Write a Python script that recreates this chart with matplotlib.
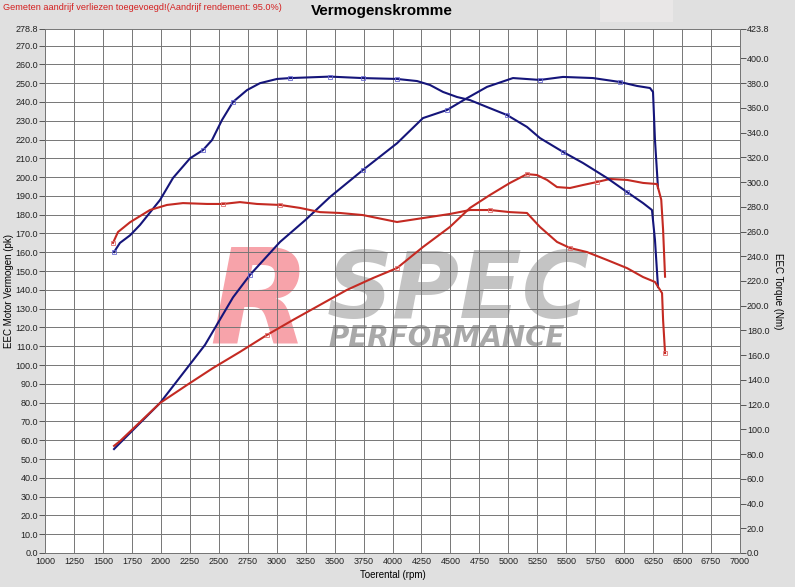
import matplotlib
matplotlib.use("Agg")
import matplotlib.pyplot as plt
import numpy as np
from matplotlib.patches import Rectangle

# ---------------- data ----------------
rpm_tuned_power = [1596, 1647, 1993, 2381, 2623, 2770, 3029, 3245, 3460, 3745, 4039, 4263,
                   4470, 4643, 4816, 5040, 5273, 5472, 5731, 5964, 6111, 6223, 6249, 6266, 6292]
tuned_power = [55.3, 58.5, 79.8, 110.7, 136.0, 148.0, 165.5, 177.0, 189.4, 203.8, 218.0, 231.4,
               235.7, 242.0, 248.0, 252.7, 251.7, 253.3, 252.7, 250.6, 248.5, 247.4, 245.3, 219.7, 194.2]

rpm_tuned_torque = [1596, 1647, 1734, 1820, 1993, 2105, 2252, 2364, 2442, 2528, 2623, 2744, 2856,
                    3003, 3115, 3460, 3745, 4039, 4212, 4324, 4436, 4557, 4669, 4816, 4989, 5161,
                    5273, 5472, 5645, 5852, 6025, 6163, 6240, 6266, 6292]
tuned_torque = [243.4, 250.8, 256.9, 265.3, 285.5, 303.3, 319.2, 325.9, 334.0, 350.2, 364.8, 374.4,
                380.0, 383.4, 384.1, 385.3, 384.1, 383.4, 381.7, 378.5, 372.9, 368.8, 366.3, 360.7,
                354.2, 344.6, 335.6, 324.4, 315.4, 303.3, 291.9, 283.0, 277.4, 253.1, 215.1]

rpm_stock_power = [1596, 1647, 1993, 2226, 2450, 2683, 2916, 3141, 3374, 3607, 3832, 4039, 4263,
                   4496, 4669, 4842, 5014, 5161, 5247, 5334, 5420, 5532, 5645, 5766, 5878, 6025,
                   6163, 6284, 6320, 6336, 6353]
stock_power = [57.0, 59.5, 79.8, 89.4, 98.4, 107.0, 116.0, 124.0, 132.0, 140.0, 146.3, 151.6, 162.8,
               173.5, 183.6, 190.5, 196.9, 201.6, 201.1, 198.5, 194.7, 194.2, 195.8, 197.4, 199.0,
               198.5, 196.9, 196.3, 188.0, 172.0, 147.0]

rpm_stock_torque = [1587, 1630, 1734, 1906, 2053, 2191, 2399, 2537, 2683, 2830, 3029, 3201, 3374,
                    3547, 3745, 4039, 4263, 4496, 4669, 4842, 5014, 5161, 5273, 5420, 5532, 5679,
                    5852, 6025, 6163, 6266, 6327, 6336, 6353]
stock_torque = [250.8, 259.6, 267.5, 277.4, 281.5, 283.0, 282.3, 282.3, 283.8, 282.3, 281.5, 279.1,
                275.7, 275.0, 273.3, 267.7, 270.9, 274.2, 277.4, 277.4, 275.7, 275.0, 263.7, 251.6,
                246.7, 243.4, 237.0, 230.4, 223.2, 219.2, 210.2, 188.5, 161.7]

x_ticks = list(range(1000, 7001, 250))
power_ticks = [float(v) for v in range(0, 271, 10)] + [278.8]
torque_ticks = [float(v) for v in range(0, 401, 20)] + [423.8]

title = "Vermogenskromme"
note = "Gemeten aandrijf verliezen toegevoegd!(Aandrijf rendement: 95.0%)"
xlabel = "Toerental (rpm)"
ylabel_left = "EEC Motor Vermogen (pk)"
ylabel_right = "EEC Torque (Nm)"
logo_r, logo_spec, logo_perf = "R", "SPEC", "PERFORMANCE"

# ---------------- style ----------------
plt.rcParams['font.family'] = ['Liberation Sans', 'DejaVu Sans']
BLUE = '#15157a'
RED = '#c42a22'
GRID = '#767676'
BG = '#e0e0e0'

fig = plt.figure(figsize=(7.95, 5.87), dpi=100, facecolor=BG)
ax = fig.add_axes([45/795, 34/587, 695/795, 524/587])
ax.set_facecolor('white')
ax2 = ax.twinx()

ax.set_xlim(1000, 7000)
ax.set_ylim(0, 278.8)
ax2.set_ylim(0, 423.8)

ax.set_xticks(x_ticks)
ax.set_xticklabels([str(v) for v in x_ticks], fontsize=6.5, color='#222222')
ax.set_yticks(power_ticks)
ax.set_yticklabels(['%.1f' % v for v in power_ticks], fontsize=6.5, color='#222222')
ax2.set_yticks(torque_ticks)
ax2.set_yticklabels(['%.1f' % v for v in torque_ticks], fontsize=6.5, color='#222222')

ax.tick_params(axis='x', length=0, pad=3)
ax.tick_params(axis='y', length=4, width=0.7, color='#555555', pad=1)
ax2.tick_params(axis='y', length=4, width=0.7, color='#555555', pad=1)

ax.set_axisbelow('line')
ax.grid(True, color=GRID, linewidth=0.7)
for a in (ax, ax2):
    a.spines['top'].set_visible(False)
    for s in ('left', 'right', 'bottom'):
        a.spines[s].set_color(GRID)
        a.spines[s].set_linewidth(0.7)

# logo watermark
logo_font = 'DejaVu Sans'
ax.text(0.236, 0.401, logo_r, transform=ax.transAxes, fontsize=94, fontweight='bold',
        fontstyle='italic', family=logo_font, color='#f7a3aa', ha='left', va='baseline', zorder=0.2)
ax.text(0.405, 0.4485, logo_spec, transform=ax.transAxes, fontsize=66, fontweight='bold',
        fontstyle='italic', family=logo_font, color='#c4c4c4', ha='left', va='baseline', zorder=0.2)
ax.text(0.408, 0.395, logo_perf, transform=ax.transAxes, fontsize=20, fontweight='bold',
        fontstyle='italic', family=logo_font, color='#a9a9a9', ha='left', va='baseline', zorder=0.2)

# curves
mk = dict(marker='s', markersize=3, markerfacecolor='none', markeredgewidth=0.6)
ax.plot(rpm_tuned_power, tuned_power, color=BLUE, lw=1.5, zorder=3,
        markevery=[5, 9, 12, 16, 19], markeredgecolor='#6a6ad0', **mk)
ax.plot(rpm_stock_power, stock_power, color=RED, lw=1.5, zorder=3,
        markevery=[6, 11, 17, 23], markeredgecolor='#e07070', **mk)
ax2.plot(rpm_tuned_torque, tuned_torque, color=BLUE, lw=1.5, zorder=3,
         markevery=[0, 7, 10, 14, 15, 16, 17, 24, 27, 30], markeredgecolor='#6a6ad0', **mk)
ax2.plot(rpm_stock_torque, stock_torque, color=RED, lw=1.5, zorder=3,
         markevery=[0, 7, 10, 19, 24, 32], markeredgecolor='#e07070', **mk)

ax.set_xlabel(xlabel, fontsize=7, labelpad=3)
ax.set_ylabel(ylabel_left, fontsize=7)
ax.yaxis.set_label_coords(-0.045, 0.5)
ax2.set_ylabel(ylabel_right, fontsize=7, rotation=270, labelpad=10)

fig.add_artist(Rectangle((600/795, 1 - 22/587), 73/795, 22/587, transform=fig.transFigure,
                         facecolor='#e9e7e7', edgecolor='none'))
fig.text(382/795, 1 - 11/587, title, fontsize=11, fontweight='bold', ha='center', va='center')
fig.text(3/795, 1 - 8/587, note, fontsize=6.6, color='#d42020', ha='left', va='center')

fig.savefig('out.png', dpi=100, facecolor=BG)
